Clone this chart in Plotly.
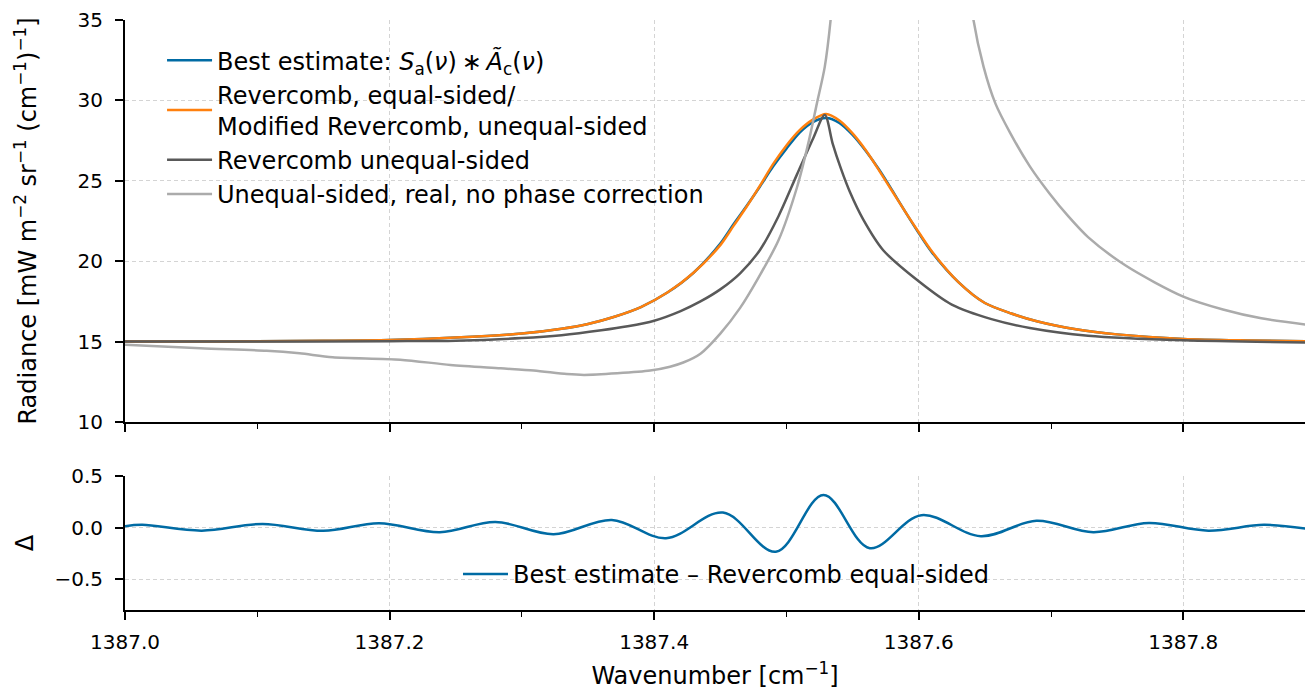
import plotly.graph_objects as go

# ---------------- data ----------------
wn_main = [1387.000, 1387.050, 1387.100, 1387.150, 1387.200, 1387.250, 1387.300,
           1387.330, 1387.350, 1387.370, 1387.390, 1387.410, 1387.430,
           1387.450, 1387.460, 1387.470, 1387.480, 1387.490, 1387.500, 1387.510,
           1387.520, 1387.530, 1387.540, 1387.550, 1387.560, 1387.570, 1387.580,
           1387.590, 1387.600, 1387.610,
           1387.630, 1387.650, 1387.670, 1387.690, 1387.720, 1387.750, 1387.800,
           1387.850, 1387.894]

best_estimate = [15.00, 15.00, 15.02, 15.05, 15.10, 15.25, 15.50,
                 15.80, 16.10, 16.55, 17.15, 18.05, 19.30,
                 21.10, 22.30, 23.45, 24.65, 25.90, 27.00, 28.00,
                 28.65, 28.90, 28.60, 27.85, 26.85, 25.70, 24.40,
                 23.05, 21.75, 20.55,
                 18.70, 17.40, 16.75, 16.25, 15.75, 15.45, 15.17,
                 15.07, 15.02]

revercomb_equal = [15.00, 15.00, 15.02, 15.05, 15.10, 15.25, 15.50,
                   15.80, 16.10, 16.55, 17.15, 18.05, 19.30,
                   21.00, 22.20, 23.40, 24.70, 26.05, 27.20, 28.15,
                   28.80, 29.15, 28.75, 27.95, 26.90, 25.65, 24.35,
                   23.05, 21.80, 20.60,
                   18.70, 17.40, 16.75, 16.25, 15.75, 15.45, 15.17,
                   15.07, 15.02]

wn_unequal = [1387.000, 1387.100, 1387.200, 1387.250, 1387.300, 1387.330, 1387.360,
              1387.380, 1387.400, 1387.420, 1387.435, 1387.450, 1387.465, 1387.480,
              1387.494, 1387.508, 1387.520, 1387.529, 1387.535, 1387.541, 1387.548,
              1387.558, 1387.573, 1387.600, 1387.625, 1387.655, 1387.684, 1387.728,
              1387.800, 1387.894]
revercomb_unequal = [15.00, 15.00, 15.03, 15.06, 15.22, 15.40, 15.70,
                     15.95, 16.30, 16.90, 17.50, 18.25, 19.25, 20.70,
                     22.80, 25.40, 27.60, 29.10, 27.30, 25.80, 24.30,
                     22.60, 20.70, 18.75, 17.30, 16.40, 15.85, 15.37,
                     15.08, 14.95]

wn_nopc = [1387.000, 1387.057, 1387.107, 1387.132, 1387.157, 1387.208, 1387.246,
           1387.284, 1387.309, 1387.334, 1387.347, 1387.372, 1387.397, 1387.412,
           1387.422, 1387.435, 1387.450, 1387.465, 1387.479, 1387.494, 1387.508,
           1387.517, 1387.523, 1387.529, 1387.534, 1387.540, 1387.560, 1387.590,
           1387.620, 1387.635, 1387.641, 1387.649, 1387.658, 1387.669, 1387.684,
           1387.699, 1387.713, 1387.728, 1387.757, 1387.800, 1387.830, 1387.859,
           1387.894]
unequal_no_pc = [14.80, 14.58, 14.43, 14.27, 14.03, 13.88, 13.55,
                 13.34, 13.20, 12.98, 12.93, 13.03, 13.20, 13.44,
                 13.70, 14.25, 15.50, 17.10, 19.00, 21.30, 24.60,
                 27.50, 29.80, 32.10, 35.50, 42.00, 60.00, 80.00,
                 60.00, 40.00, 35.20, 32.10, 29.80, 28.00, 25.90,
                 24.20, 22.80, 21.50, 19.70, 17.80, 17.00, 16.45,
                 16.05]

# extrema of the residual oscillation
wn_delta = [1387.000, 1387.013, 1387.058, 1387.104, 1387.150, 1387.192, 1387.238,
            1387.280, 1387.324, 1387.368, 1387.409, 1387.452, 1387.492, 1387.528,
            1387.563, 1387.602, 1387.647, 1387.689, 1387.732, 1387.774, 1387.819,
            1387.861, 1387.894]
delta = [0.012, 0.026, -0.030, 0.035, -0.032, 0.042, -0.045,
         0.055, -0.065, 0.074, -0.103, 0.145, -0.235, 0.316,
         -0.200, 0.120, -0.084, 0.065, -0.045, 0.045, -0.030,
         0.026, -0.013]

radiance_ticks = [10, 15, 20, 25, 30, 35]
delta_ticks = [-0.5, 0.0, 0.5]
delta_ticktext = ["\u22120.5", "0.0", "0.5"]
x_range = [1387.0, 1387.892]

# ---------------- styling ----------------
BLUE, ORANGE, DGRAY, LGRAY = "#006BA4", "#FF800E", "#595959", "#ABABAB"
FONT = "DejaVu Sans"
LW = 2.5

fig = go.Figure()

def line(x, y, color, name, xa="x", ya="y", legend="legend", smoothing=0.8):
    return go.Scatter(x=x, y=y, mode="lines", name=name, xaxis=xa, yaxis=ya,
                      legend=legend,
                      line=dict(color=color, width=LW, shape="spline", smoothing=smoothing))

fig.add_trace(line(wn_main, best_estimate, BLUE,
                   "Best estimate: <i>S</i><sub>a</sub>(<i>\u03bd</i>)\u2009\u2217\u2009<i>\u00c3</i><sub>c</sub>(<i>\u03bd</i>)"))
fig.add_trace(line(wn_main, revercomb_equal, ORANGE,
                   "Revercomb, equal-sided/<br>Modified Revercomb, unequal-sided"))
fig.add_trace(line(wn_unequal, revercomb_unequal, DGRAY, "Revercomb unequal-sided"))
fig.add_trace(line(wn_nopc, unequal_no_pc, LGRAY, "Unequal-sided, real, no phase correction"))
fig.add_trace(line(wn_delta, delta, BLUE, "Best estimate \u2013 Revercomb equal-sided",
                   xa="x2", ya="y2", legend="legend2", smoothing=1.0))

axis_common = dict(showline=True, linecolor="black", linewidth=2, automargin=False,
                   ticks="outside", ticklen=8, tickwidth=1.6, tickcolor="black",
                   showgrid=True, gridcolor="#d4d4d4", gridwidth=1, griddash="4px,3px",
                   zeroline=False, tickfont=dict(family=FONT, size=20, color="black"))

minor_x = dict(dtick=0.1, ticks="outside", ticklen=5, tickwidth=1.4,
               tickcolor="black", showgrid=False)

fig.update_layout(
    width=1306, height=690,
    margin=dict(l=125, r=1, t=20, b=80, autoexpand=False),
    paper_bgcolor="white", plot_bgcolor="white",
    font=dict(family=FONT, size=20, color="black"),
    xaxis=dict(domain=[0, 1], anchor="y", range=x_range, tick0=1387.0, dtick=0.2,
               showticklabels=False, minor=minor_x, **axis_common),
    yaxis=dict(domain=[0.3186, 1], anchor="x", range=[10, 35], tickvals=radiance_ticks,
               ticklabelstandoff=8,
               title=dict(text="Radiance [mW m<sup>\u22122</sup> sr<sup>\u22121</sup> (cm<sup>\u22121</sup>)<sup>\u22121</sup>]",
                          font=dict(family=FONT, size=24, color="black"), standoff=34),
               **axis_common),
    xaxis2=dict(domain=[0, 1], anchor="y2", range=x_range, tick0=1387.0, dtick=0.2,
                tickformat=".1f", minor=minor_x, ticklabelstandoff=5,
                title=dict(text="Wavenumber [cm<sup>\u22121</sup>]",
                           font=dict(family=FONT, size=24, color="black"), standoff=23),
                **axis_common),
    yaxis2=dict(domain=[0, 0.2271], anchor="x2", range=[-0.8, 0.5], tickvals=delta_ticks,
                ticktext=delta_ticktext, ticklabelstandoff=8,
                title=dict(text="\u0394", font=dict(family=FONT, size=24, color="black"),
                           standoff=14),
                **axis_common),
    legend=dict(x=0.0314, y=0.9694, xanchor="left", yanchor="top",
                bgcolor="rgba(0,0,0,0)", borderwidth=0,
                font=dict(family=FONT, size=24, color="black"),
                itemwidth=45, tracegroupgap=0),
    legend2=dict(x=0.2822, y=0.022, xanchor="left", yanchor="bottom",
                 bgcolor="rgba(0,0,0,0)", borderwidth=0,
                 font=dict(family=FONT, size=24, color="black"),
                 itemwidth=45),
    showlegend=True,
)

fig.write_html("out.html")
